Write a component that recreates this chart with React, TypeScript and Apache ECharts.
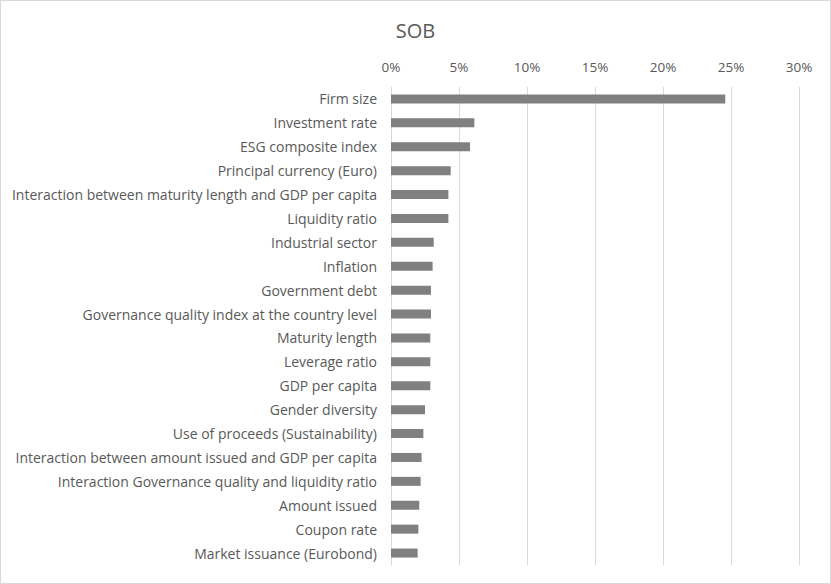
import React, { useEffect, useRef } from 'react';
import * as echarts from 'echarts';

// Variable importance for SOB, in percent (top to bottom as drawn)
const categories: string[] = [
  'Firm size',
  'Investment rate',
  'ESG composite index',
  'Principal currency (Euro)',
  'Interaction between maturity length and GDP per capita',
  'Liquidity ratio',
  'Industrial sector',
  'Inflation',
  'Government debt',
  'Governance quality index at the country level',
  'Maturity length',
  'Leverage ratio',
  'GDP per capita',
  'Gender diversity',
  'Use of proceeds (Sustainability)',
  'Interaction between amount issued and GDP per capita',
  'Interaction Governance quality and liquidity ratio',
  'Amount issued',
  'Coupon rate',
  'Market issuance (Eurobond)',
];

const importance: number[] = [
  24.58, 6.13, 5.81, 4.39, 4.22, 4.22, 3.14, 3.06, 2.94, 2.94,
  2.89, 2.89, 2.89, 2.5, 2.38, 2.25, 2.18, 2.08, 2.01, 1.96,
];

const TEXT = '#595959';
const GRID = '#d9d9d9';
const FONT = '"Open Sans", "Noto Sans", sans-serif';

const App: React.FC = () => {
  const chartRef = useRef<HTMLDivElement>(null);

  useEffect(() => {
    if (!chartRef.current) return;
    const chart = echarts.init(chartRef.current, undefined, { renderer: 'svg' });

    chart.setOption({
      animation: false,
      backgroundColor: '#ffffff',
      title: {
        text: 'SOB',
        left: 'center',
        top: 14,
        textStyle: { fontFamily: FONT, fontSize: 20, fontWeight: 'normal', color: TEXT },
      },
      grid: { left: 390, right: 31, top: 86, bottom: 18 },
      xAxis: {
        type: 'value',
        position: 'top',
        min: 0,
        max: 30,
        interval: 5,
        axisLine: { show: false },
        axisTick: { show: false },
        axisLabel: {
          formatter: '{value}%',
          color: TEXT,
          fontFamily: FONT,
          fontSize: 13.5,
          margin: 13,
        },
        splitLine: { lineStyle: { color: GRID, width: 1 } },
      },
      yAxis: {
        type: 'category',
        inverse: true,
        data: categories,
        axisLine: { show: true, lineStyle: { color: GRID } },
        axisTick: { show: false },
        axisLabel: {
          color: TEXT,
          fontFamily: FONT,
          fontSize: 14,
          margin: 14,
        },
      },
      series: [
        {
          type: 'bar',
          data: importance,
          barWidth: 9,
          itemStyle: { color: '#808080' },
        },
      ],
    });

    return () => {
      chart.dispose();
    };
  }, []);

  return (
    <div
      style={{
        position: 'fixed',
        left: 0,
        top: 0,
        width: 831,
        height: 584,
        boxSizing: 'border-box',
        border: '1px solid #d9d9d9',
        background: '#fff',
      }}
    >
      <div ref={chartRef} style={{ width: 829, height: 582 }} />
    </div>
  );
};

export default App;
